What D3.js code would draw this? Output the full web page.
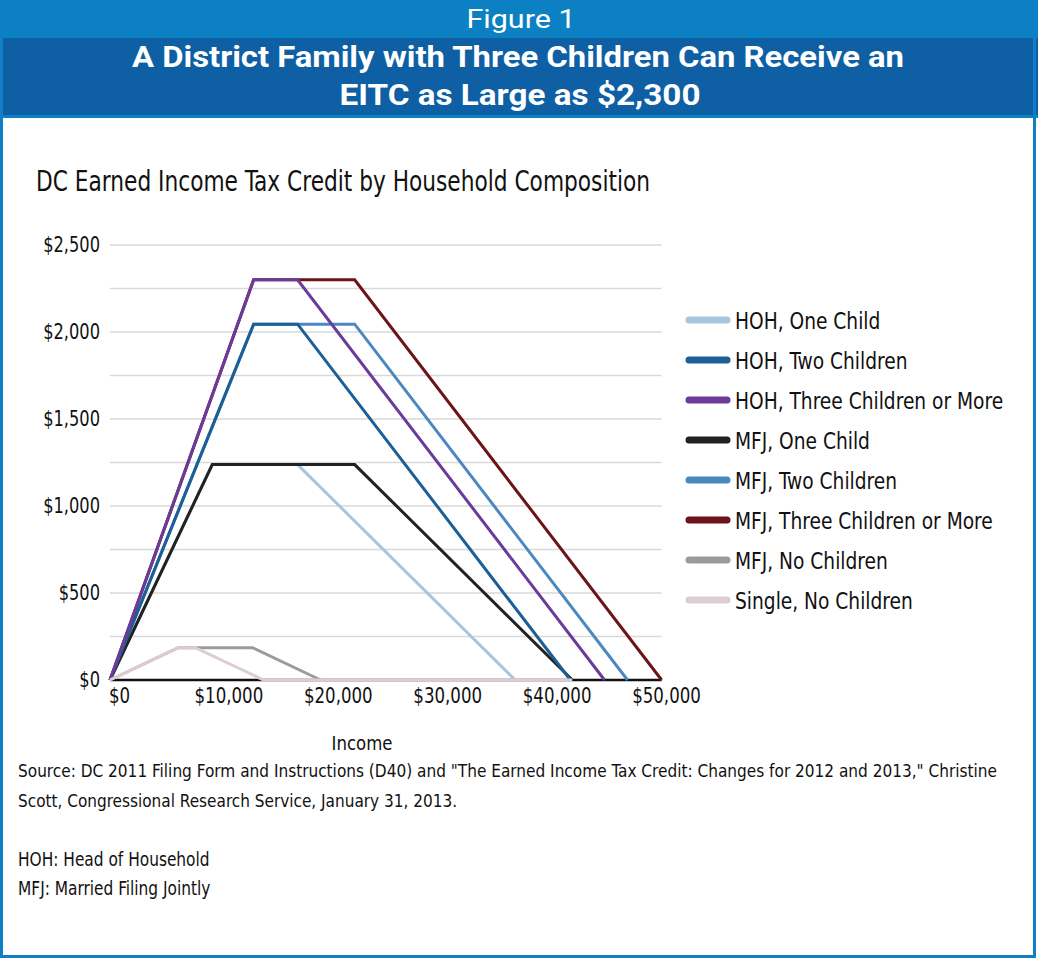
<!DOCTYPE html>
<html>
<head>
<meta charset="utf-8">
<script src="https://cdn.jsdelivr.net/npm/d3@7"></script>
<style>
  body { margin: 0; background: #fff; }
  text { font-family: "DejaVu Sans Condensed", "DejaVu Sans", sans-serif; }
</style>
</head>
<body>
<div class="chart"></div>
<script>
const width = 1038;
const height = 959;

// DATA //
// series names in legend order
const seriesNames = ["HOH, One Child", "HOH, Two Children", "HOH, Three Children or More",
    "MFJ, One Child", "MFJ, Two Children", "MFJ, Three Children or More",
    "MFJ, No Children", "Single, No Children"];
const seriesColors = ["#a8c5de", "#1c5f97", "#6b3a9b", "#222222", "#4b88c0", "#6d1418", "#9b9b9b", "#ddcdd1"];

// [income, credit] points of each schedule
const hohOne   = [[0, 0], [9100, 1238], [16690, 1238], [36052, 0]];
const hohTwo   = [[0, 0], [12780, 2045], [16690, 2045], [40964, 0]];
const hohThree = [[0, 0], [12780, 2300], [16690, 2300], [43998, 0]];
const mfjOne   = [[0, 0], [9100, 1238], [21770, 1238], [41132, 0]];
const mfjTwo   = [[0, 0], [12780, 2045], [21770, 2045], [46044, 0]];
const mfjThree = [[0, 0], [12780, 2300], [21770, 2300], [49078, 0]];
const mfjNone  = [[0, 0], [6070, 186], [12670, 186], [18740, 0]];
const singleNone = [[0, 0], [6070, 186], [7590, 186], [13660, 0], [41132, 0]];
const seriesValues = [hohOne, hohTwo, hohThree, mfjOne, mfjTwo, mfjThree, mfjNone, singleNone];
// order the lines are painted in (later on top)
const drawOrder = [0, 4, 5, 3, 1, 2, 6, 7];

const xTicks = [0, 10000, 20000, 30000, 40000, 50000];
const yTicks = [0, 500, 1000, 1500, 2000, 2500];
const yGrid = d3.range(250, 2501, 250);
const xLast = 49078;

const sourceLines = ["Source: DC 2011 Filing Form and Instructions (D40) and \"The Earned Income Tax Credit: Changes for 2012 and 2013,\" Christine",
    "Scott, Congressional Research Service, January 31, 2013."];
const noteLines = ["HOH: Head of Household", "MFJ: Married Filing Jointly"];

// text width helpers (the original uses a condensed face)
function fit(sel, w) {
    sel.attr("textLength", w).attr("lengthAdjust", "spacingAndGlyphs");
}
function squeeze(sel, k) {
    sel.each(function () {
        d3.select(this)
            .attr("textLength", this.getComputedTextLength() * k)
            .attr("lengthAdjust", "spacingAndGlyphs");
    });
}

// SVG //
const svg = d3.select(".chart")
    .append("svg")
    .attr("width", width)
    .attr("height", height);

// header bands + frame
svg.append("rect").attr("x", 0).attr("y", 0).attr("width", width).attr("height", 38).attr("fill", "#0b80c2");
svg.append("rect").attr("x", 0).attr("y", 38).attr("width", width).attr("height", 77).attr("fill", "#0f5fa5");
svg.append("rect").attr("x", 0).attr("y", 115).attr("width", width).attr("height", 3).attr("fill", "#0b80c2");
svg.append("rect")
    .attr("x", 1.5).attr("y", 1.5).attr("width", 1033).attr("height", 955)
    .attr("fill", "none").attr("stroke", "#0f7fc6").attr("stroke-width", 3);

svg.append("text").attr("x", 521).attr("y", 28).attr("text-anchor", "middle")
    .attr("fill", "#fff").style("font-family", "Roboto, sans-serif").style("font-size", "26px")
    .text("Figure 1").call(fit, 109);
svg.append("text").attr("x", 518).attr("y", 67).attr("text-anchor", "middle")
    .attr("fill", "#fff").style("font-family", "Roboto, sans-serif").style("font-size", "30px").style("font-weight", "bold")
    .text("A District Family with Three Children Can Receive an").call(fit, 772);
svg.append("text").attr("x", 520).attr("y", 105).attr("text-anchor", "middle")
    .attr("fill", "#fff").style("font-family", "Roboto, sans-serif").style("font-size", "30px").style("font-weight", "bold")
    .text("EITC as Large as $2,300").call(fit, 361);

// chart title
svg.append("text").attr("x", 36).attr("y", 191)
    .attr("fill", "#111").style("font-size", "28px")
    .text("DC Earned Income Tax Credit by Household Composition").call(fit, 614);

// SCALES //
const x = d3.scaleLinear().domain([0, 50000]).range([110, 672]);
const xLabel = d3.scaleLinear().domain([0, 50000]).range([119, 666]);
const y = d3.scaleLinear().domain([0, 2500]).range([680, 245]);
const fmt = d => "$" + d3.format(",")(d);

// gridlines
svg.append("g")
    .selectAll("line")
    .data(yGrid)
    .join("line")
    .attr("x1", x(0)).attr("x2", x(xLast))
    .attr("y1", d => y(d)).attr("y2", d => y(d))
    .attr("stroke", "#d9d9d9").attr("stroke-width", 1.5);

// y axis labels
const yAxis = svg.append("g")
    .attr("transform", `translate(${x(0)},0)`)
    .call(d3.axisLeft(y).tickValues(yTicks).tickFormat(fmt).tickSize(0).tickPadding(10));
yAxis.select(".domain").remove();
yAxis.selectAll("text")
    .attr("fill", "#111")
    .style("font-family", "'DejaVu Sans Condensed', 'DejaVu Sans', sans-serif")
    .style("font-size", "21px")
    .call(squeeze, 0.86);

// x axis labels
const xAxis = svg.append("g")
    .attr("transform", `translate(0,${y(0)})`)
    .call(d3.axisBottom(xLabel).tickValues(xTicks).tickFormat(fmt).tickSize(0).tickPadding(8));
xAxis.select(".domain").remove();
xAxis.selectAll("text")
    .attr("fill", "#111")
    .style("font-family", "'DejaVu Sans Condensed', 'DejaVu Sans', sans-serif")
    .style("font-size", "21px")
    .call(squeeze, 0.88);

// zero line
svg.append("line")
    .attr("x1", x(0)).attr("x2", x(xLast))
    .attr("y1", y(0)).attr("y2", y(0))
    .attr("stroke", "#111").attr("stroke-width", 2.5);

svg.append("text").attr("x", 362).attr("y", 750).attr("text-anchor", "middle")
    .attr("fill", "#111").style("font-size", "20px").text("Income").call(fit, 61);

// LINES //
const line = d3.line().x(d => x(d[0])).y(d => y(d[1]));
svg.append("g")
    .selectAll("path")
    .data(drawOrder)
    .join("path")
    .attr("d", i => line(seriesValues[i]))
    .attr("fill", "none")
    .attr("stroke", i => seriesColors[i])
    .attr("stroke-width", 3)
    .attr("stroke-linejoin", "miter");

// LEGEND //
const legend = svg.append("g")
    .selectAll("g")
    .data(seriesNames)
    .join("g")
    .attr("transform", (d, i) => `translate(689,${320 + i * 40})`);
legend.append("line")
    .attr("x1", 0).attr("x2", 38).attr("y1", 0).attr("y2", 0)
    .attr("stroke", (d, i) => seriesColors[i])
    .attr("stroke-width", 7).attr("stroke-linecap", "round");
legend.append("text")
    .attr("x", 46).attr("y", 9)
    .attr("fill", "#111").style("font-size", "23px")
    .text(d => d)
    .call(squeeze, 0.9);

// SOURCE NOTES //
svg.append("g")
    .selectAll("text")
    .data(sourceLines)
    .join("text")
    .attr("x", 18).attr("y", (d, i) => 777 + i * 30)
    .attr("fill", "#111").style("font-size", "17.5px")
    .text(d => d)
    .each(function (d, i) { d3.select(this).call(fit, i === 0 ? 979 : 439); });
svg.append("g")
    .selectAll("text")
    .data(noteLines)
    .join("text")
    .attr("x", 18).attr("y", (d, i) => 866 + i * 29)
    .attr("fill", "#111").style("font-size", "20px")
    .text(d => d)
    .call(squeeze, 0.855);
</script>
</body>
</html>
